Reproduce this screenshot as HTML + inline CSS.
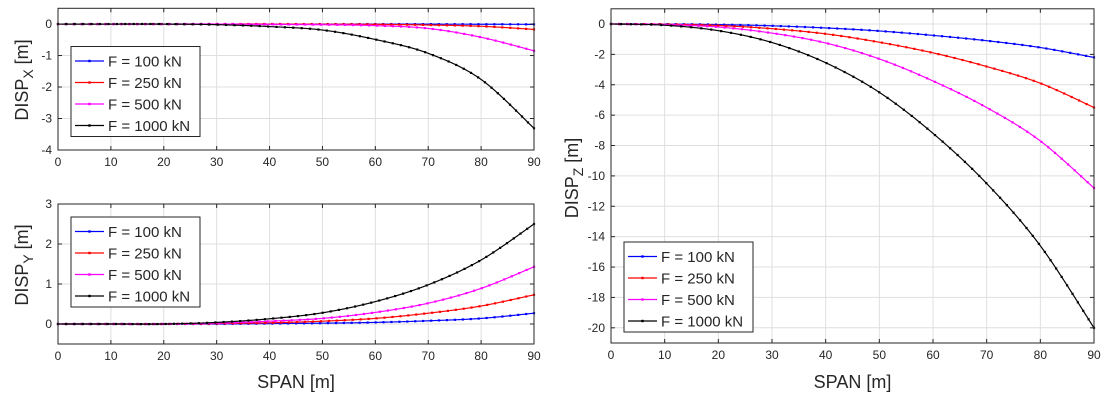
<!DOCTYPE html>
<html><head><meta charset="utf-8"><style>
html,body{margin:0;padding:0;background:#fff;}
svg{display:block;font-family:"Liberation Sans",Arial,sans-serif;}
</style></head><body>
<svg id="fig" width="1111" height="402" viewBox="0 0 1111 402" xmlns="http://www.w3.org/2000/svg"></svg>
<script>
const spans = [0,10,20,30,40,50,60,70,80,90];
const seriesLabels = ["F = 100 kN","F = 250 kN","F = 500 kN","F = 1000 kN"];
const seriesColors = ["#0000ff","#ff0000","#ff00ff","#000000"];
const dispX100 = [0,0,0,0,0,0,0,-0.003,-0.006,-0.01];
const dispX250 = [0,0,0,0,0,-0.005,-0.01,-0.03,-0.07,-0.17];
const dispX500 = [0,0,0,0,-0.01,-0.02,-0.05,-0.14,-0.42,-0.85];
const dispX1000 = [0,0,0,-0.02,-0.08,-0.19,-0.49,-0.93,-1.76,-3.31];
const dispY100 = [0,0,0,0,0.01,0.02,0.04,0.08,0.14,0.27];
const dispY250 = [0,0,0,0.01,0.03,0.07,0.14,0.27,0.45,0.73];
const dispY500 = [0,0,0,0.02,0.07,0.14,0.29,0.52,0.89,1.43];
const dispY1000 = [0,0,0,0.04,0.13,0.28,0.56,0.98,1.6,2.5];
const dispZ100 = [0,-0.01,-0.04,-0.12,-0.26,-0.46,-0.75,-1.1,-1.55,-2.2];
const dispZ250 = [0,-0.02,-0.1,-0.31,-0.65,-1.2,-1.9,-2.8,-3.9,-5.5];
const dispZ500 = [0,-0.04,-0.2,-0.6,-1.25,-2.3,-3.75,-5.5,-7.7,-10.8];
const dispZ1000 = [0,-0.08,-0.44,-1.22,-2.55,-4.5,-7.2,-10.5,-14.6,-20];
const xTicks = [0,10,20,30,40,50,60,70,80,90];
const yTicksX = [0,-1,-2,-3,-4];
const yTicksY = [0,1,2,3];
const yTicksZ = [0,-2,-4,-6,-8,-10,-12,-14,-16,-18,-20];

const NS="http://www.w3.org/2000/svg";
const svg=document.getElementById('fig');
function mk(tag,attrs,parent){const e=document.createElementNS(NS,tag);for(const k in attrs)e.setAttribute(k,attrs[k]);(parent||svg).appendChild(e);return e;}

function panel(cfg){
  const g=mk('g',{});
  
  
  const sx=v=>cfg.x0+(v-0)/(90-0)*(cfg.x1-cfg.x0);
  const sy=v=>cfg.y0+(cfg.ymax-v)/(cfg.ymax-cfg.ymin)*(cfg.y1-cfg.y0);
  xTicks.forEach(t=>{const l=mk('line',{x1:sx(t),x2:sx(t),y1:cfg.y0,y2:cfg.y1,stroke:'#dfdfdf','stroke-width':1},g);});
  cfg.yTicks.forEach(t=>{const l=mk('line',{x1:cfg.x0,x2:cfg.x1,y1:sy(t),y2:sy(t),stroke:'#dfdfdf','stroke-width':1},g);});
  cfg.series.forEach((vals,i)=>{
    const pts=spans.map((s,j)=>[sx(s),sy(vals[j])]);
    let d='M'+pts[0][0]+','+pts[0][1];
    for(let j=0;j<pts.length-1;j++){
      const p0=pts[Math.max(0,j-1)],p1=pts[j],p2=pts[j+1],p3=pts[Math.min(pts.length-1,j+2)];
      const c1=[p1[0]+(p2[0]-p0[0])/6,p1[1]+(p2[1]-p0[1])/6];
      const c2=[p2[0]-(p3[0]-p1[0])/6,p2[1]-(p3[1]-p1[1])/6];
      d+=' C'+c1[0]+','+c1[1]+' '+c2[0]+','+c2[1]+' '+p2[0]+','+p2[1];
    }
    const path=mk('path',{d:d,fill:'none',stroke:seriesColors[i],'stroke-width':1.2,'stroke-dasharray':'0.1 0'},g);
    
    
    // dense markers along the path
    const L=path.getTotalLength();
    const n=60;
    for(let k=0;k<=n;k++){const p=path.getPointAtLength(L*k/n);const m=mk('rect',{x:p.x-1.1,y:p.y-1.1,width:2.2,height:2.2,fill:seriesColors[i]},g);}
  });
  const b=mk('rect',{x:cfg.x0,y:cfg.y0,width:cfg.x1-cfg.x0,height:cfg.y1-cfg.y0,fill:'none',stroke:'#262626','stroke-width':1},g);
  
  xTicks.forEach(t=>{
    mk('line',{x1:sx(t),x2:sx(t),y1:cfg.y1,y2:cfg.y1-4,stroke:'#262626'},g);
    mk('line',{x1:sx(t),x2:sx(t),y1:cfg.y0,y2:cfg.y0+4,stroke:'#262626'},g);
    const tx=mk('text',{x:sx(t),y:cfg.y1+16,'text-anchor':'middle','font-size':12,fill:'#262626'},g);tx.textContent=t;
    
  });
  cfg.yTicks.forEach(t=>{
    mk('line',{x1:cfg.x0,x2:cfg.x0+4,y1:sy(t),y2:sy(t),stroke:'#262626'},g);
    mk('line',{x1:cfg.x1,x2:cfg.x1-4,y1:sy(t),y2:sy(t),stroke:'#262626'},g);
    const tx=mk('text',{x:cfg.x0-6,y:sy(t)+4,'text-anchor':'end','font-size':12,fill:'#262626'},g);tx.textContent=t;
    
  });
  const yl=mk('text',{transform:'translate('+cfg.ylx+','+cfg.yly+') rotate(-90)','text-anchor':'middle','font-size':18,fill:'#262626'},g);
  yl.innerHTML='DISP<tspan font-size="14" dy="5">'+cfg.sub+'</tspan><tspan dy="-5"> [m]</tspan>';
  
  if(cfg.xlabel){
    const xl=mk('text',{x:(cfg.x0+cfg.x1)/2,y:388,'text-anchor':'middle','font-size':18,fill:'#262626'},g);
    xl.textContent='SPAN [m]';
    
  }
  const lg=mk('g',{},g);
  
  mk('rect',{x:cfg.lx,y:cfg.ly,width:129,height:90,fill:'#fff',stroke:'#262626','stroke-width':1},lg);
  seriesLabels.forEach((lab,i)=>{
    const yy=cfg.ly+14.5+i*21.5;
    const e=mk('g',{},lg);
    
    mk('line',{x1:cfg.lx+4,x2:cfg.lx+33,y1:yy,y2:yy,stroke:seriesColors[i],'stroke-width':1.2},e);
    mk('rect',{x:cfg.lx+17.3,y:yy-1.2,width:2.4,height:2.4,fill:seriesColors[i]},e);
    const t=mk('text',{x:cfg.lx+37,y:yy+5.5,'font-size':15,fill:'#262626'},e);t.textContent=lab;
  });
}
panel({name:'disp-x-chart',x0:58,x1:534,y0:8.3,y1:150,ymin:-4,ymax:0.5,yTicks:yTicksX,series:[dispX100,dispX250,dispX500,dispX1000],sub:'X',ylx:28,yly:80,lx:71,ly:46.5,xlabel:false});
panel({name:'disp-y-chart',x0:58,x1:534,y0:204,y1:344,ymin:-0.5,ymax:3,yTicks:yTicksY,series:[dispY100,dispY250,dispY500,dispY1000],sub:'Y',ylx:28,yly:265,lx:71,ly:217,xlabel:true});
panel({name:'disp-z-chart',x0:611,x1:1094,y0:8.8,y1:343,ymin:-21,ymax:1,yTicks:yTicksZ,series:[dispZ100,dispZ250,dispZ500,dispZ1000],sub:'Z',ylx:578,yly:178,lx:624,ly:242,xlabel:true});
</script>
</body></html>
